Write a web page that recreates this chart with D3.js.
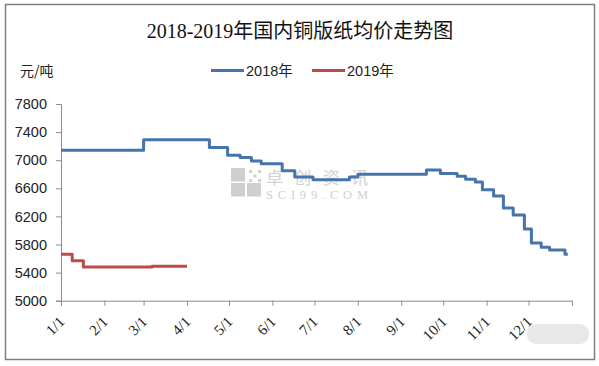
<!DOCTYPE html>
<html><head><meta charset="utf-8">
<script src="https://cdn.jsdelivr.net/npm/d3@7"></script>
<style>
html,body{margin:0;padding:0;background:#fff;}
svg{display:block;}
</style></head>
<body>
<svg id="chart" width="599" height="366"></svg>
<script>
// ---- data ----
const title = "2018-2019年国内铜版纸均价走势图";
const unitLabel = "元/吨";
const seriesNames = ["2018年", "2019年"];
const dates2018 = ["01-01","03-01","04-17","04-30","05-09","05-17","05-24","06-08","06-17","06-30","07-26","08-01","09-19","09-29","10-11","10-17","10-24","10-29","11-06","11-13","11-20","11-28","12-03","12-10","12-16","12-27","12-29"];
const values2018 = [7140,7290,7180,7070,7040,6990,6950,6850,6760,6720,6760,6800,6860,6810,6770,6730,6690,6580,6490,6320,6220,6020,5820,5760,5720,5660,5660];
const dates2019 = ["01-01","01-09","01-17","03-07","04-01"];
const values2019 = [5660,5570,5480,5490,5490];
const yTicks = [5000,5400,5800,6200,6600,7000,7400,7800];
const xTickLabels = ["1/1","2/1","3/1","4/1","5/1","6/1","7/1","8/1","9/1","10/1","11/1","12/1"];
const colors = ["#4674ab", "#be4b48"];

// ---- chart ----
const svg = d3.select("#chart");
const parse = d3.timeParse("%Y-%m-%d");
const toDate = md => parse("2018-" + md);

const x = d3.scaleTime().domain([parse("2018-01-01"), parse("2019-01-01")]).range([61, 572]);
const y = d3.scaleLinear().domain([5000, 7800]).range([300.7, 104]);

// outer border
svg.append("rect").attr("x", 5.5).attr("y", 4.5).attr("width", 589).attr("height", 355)
  .attr("fill", "#fff").attr("stroke", "#7f7f7f").attr("stroke-width", 1.5);

// watermark
const wm = svg.append("g");
const sq = [[231,168],[247,168],[231,183],[247,183]];
sq.forEach((p,i) => {
  if (i === 1) {
    for (let a = 0; a < 3; a++) for (let b = 0; b < 3; b++) {
      if ((a + b) % 2 === 0) wm.append("rect").attr("x", p[0] + 2 + a*4.5).attr("y", p[1] + 2 + b*4.5).attr("width", 3).attr("height", 3).attr("fill", "#d0d0d0");
    }
  } else {
    wm.append("rect").attr("x", p[0]).attr("y", p[1]).attr("width", 14).attr("height", 13.5).attr("fill", "#cfcfcf");
  }
});
wm.append("text").attr("x", 266).attr("y", 184).text("卓创资讯")
  .attr("font-family", "Noto Sans CJK SC").attr("font-size", 17).attr("fill", "#d2d2d2")
  .attr("textLength", 102);
wm.append("text").attr("x", 266).attr("y", 199).text("SCI99.COM")
  .attr("font-family", "Liberation Serif").attr("font-size", 12.5).attr("fill", "#d0d0d0")
  .attr("textLength", 102);

// bottom-right badge (blurred watermark)
svg.append("rect").attr("x", 527).attr("y", 324).attr("width", 62).attr("height", 20).attr("rx", 9)
  .attr("fill", "#e8e8e8");

// title
svg.append("text").attr("x", 300).attr("y", 38).attr("text-anchor", "middle")
  .attr("font-family", "Liberation Serif, Noto Sans CJK SC").attr("font-size", 20)
  .attr("fill", "#111").text(title);

// unit label
svg.append("text").attr("x", 20).attr("y", 76).text(unitLabel)
  .attr("font-family", "Noto Sans CJK SC").attr("font-size", 14).attr("fill", "#222");

// legend
const legendItems = [{x: 211, name: seriesNames[0], c: colors[0]}, {x: 312, name: seriesNames[1], c: colors[1]}];
legendItems.forEach(d => {
  svg.append("line").attr("x1", d.x).attr("x2", d.x + 33).attr("y1", 70.5).attr("y2", 70.5)
    .attr("stroke", d.c).attr("stroke-width", 3);
  svg.append("text").attr("x", d.x + 35).attr("y", 76).text(d.name)
    .attr("font-family", "Liberation Sans, Noto Sans CJK SC").attr("font-size", 14.5).attr("fill", "#222");
});

// y axis
const yAxis = svg.append("g").attr("transform", "translate(61,0)")
  .call(d3.axisLeft(y).tickValues(yTicks).tickSize(5).tickPadding(9).tickFormat(d3.format("d")));
yAxis.select(".domain").attr("stroke", "#8c8c8c");
yAxis.selectAll(".tick line").attr("stroke", "#8c8c8c");
yAxis.selectAll(".tick text").attr("font-family", "Liberation Sans").attr("font-size", 14.5).attr("fill", "#222");

// x axis
const monthTicks = d3.timeMonth.range(parse("2018-01-01"), parse("2019-01-02"));
const xAxis = svg.append("g").attr("transform", "translate(0,300.7)")
  .call(d3.axisBottom(x).tickValues(monthTicks).tickSize(5).tickFormat((d, i) => xTickLabels[i] || ""));
xAxis.select(".domain").attr("stroke", "#8c8c8c");
xAxis.selectAll(".tick line").attr("stroke", "#8c8c8c");
xAxis.selectAll(".tick text")
  .attr("font-family", "Liberation Serif").attr("font-size", 15).attr("fill", "#222")
  .attr("text-anchor", "end").attr("dy", null).attr("y", 0)
  .attr("transform", "translate(4,22) rotate(-45)");

// lines
const line = d3.line().x(d => x(d.date)).y(d => y(d.value)).curve(d3.curveStepAfter);
const s2018 = dates2018.map((d, i) => ({date: toDate(d), value: values2018[i]}));
const s2019 = dates2019.map((d, i) => ({date: toDate(d), value: values2019[i]}));
svg.append("path").datum(s2018).attr("d", line).attr("fill", "none")
  .attr("stroke", colors[0]).attr("stroke-width", 3).attr("stroke-linejoin", "round");
svg.append("path").datum(s2019).attr("d", line).attr("fill", "none")
  .attr("stroke", colors[1]).attr("stroke-width", 3).attr("stroke-linejoin", "round");
</script>
</body></html>
